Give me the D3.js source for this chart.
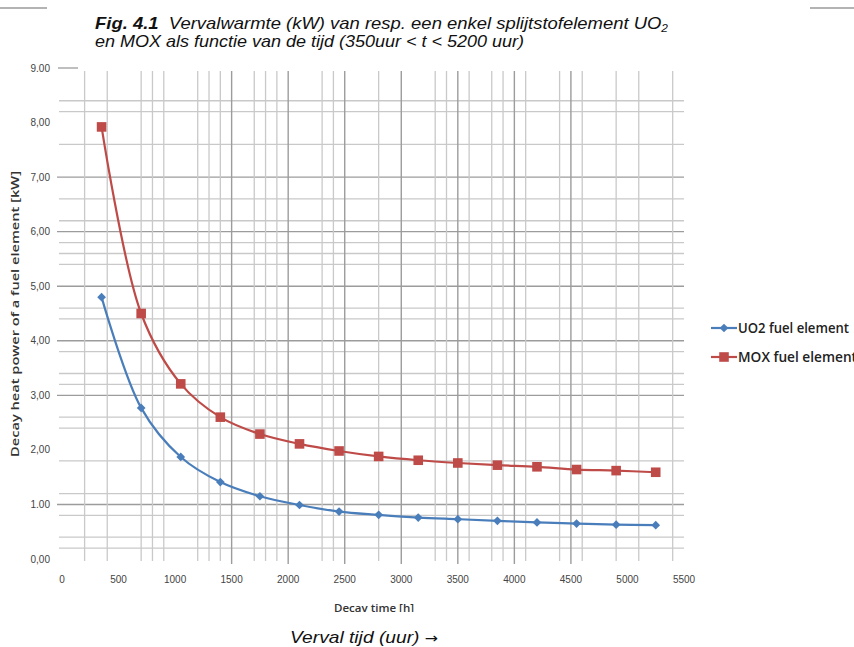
<!DOCTYPE html>
<html>
<head>
<meta charset="utf-8">
<script src="https://cdn.jsdelivr.net/npm/d3@7"></script>
<style>
  body { margin: 0; background: #fff; }
  svg { display: block; }
</style>
</head>
<body>
<svg id="chart" width="854" height="647"></svg>
<script>
// Decay time (hours) at which each fuel element was evaluated
const hours = [350, 700, 1050, 1400, 1750, 2100, 2450, 2800, 3150, 3500, 3850, 4200, 4550, 4900, 5250];
// Decay heat power [kW]
const uo2Power = [4.80, 2.77, 1.87, 1.41, 1.15, 0.99, 0.87, 0.81, 0.76, 0.73, 0.70, 0.67, 0.65, 0.63, 0.62];
const moxPower = [7.92, 4.50, 3.21, 2.60, 2.29, 2.11, 1.98, 1.88, 1.81, 1.76, 1.72, 1.69, 1.64, 1.62, 1.59];
const seriesNames = ["UO2 fuel element", "MOX fuel element"];

// Axis ticks and labels
const xTickValues = [0, 500, 1000, 1500, 2000, 2500, 3000, 3500, 4000, 4500, 5000, 5500];
const yTickValues = [0, 1, 2, 3, 4, 5, 6, 7, 8, 9];
const yTickLabels = ["0,00", "1.00", "2,00", "3,00", "4,00", "5,00", "6,00", "7,00", "8,00", "9.00"];

// Grid lines (minor = light, major = darker)
const xGridMinor = [200, 400, 700, 800, 900, 1200, 1300, 1400, 1700, 1800, 1900, 2300, 2400, 2800,
                    3300, 3400, 3600, 3800, 3900, 4100, 4400, 4600, 4900, 5100, 5400];
const xGridMajor = [1500, 2000, 2500, 3000, 3500, 4000, 4500];
const yGridMinor = [0.2, 0.4, 0.8, 1.2, 1.8, 2.4, 2.6, 3.2, 3.4, 3.8, 4.4, 4.6, 5.4, 5.6, 5.8,
                    6.2, 6.6, 7.6, 8.2, 8.4];
const yGridMajor = [1, 3, 4, 5, 6, 7];

const svg = d3.select("#chart");

const x = d3.scaleLinear().domain([0, 5500]).range([62, 684]);
const y = d3.scaleLinear().domain([0, 9]).range([559, 68]);

const blue = "#4a7ebb";
const red = "#be4b48";
const gridTop = y(9) + 3;

// Page rules at the top
svg.append("line").attr("x1", 0).attr("x2", 47).attr("y1", 8).attr("y2", 8)
  .attr("stroke", "#9a9a9a").attr("stroke-width", 1.4);
svg.append("line").attr("x1", 810).attr("x2", 854).attr("y1", 8).attr("y2", 8)
  .attr("stroke", "#9a9a9a").attr("stroke-width", 1.4);

// Caption
const captionFont = "'Liberation Sans', Arial, sans-serif";
const cap1 = svg.append("text")
  .attr("x", 95).attr("y", 29)
  .attr("font-family", captionFont).attr("font-size", 17).attr("font-style", "italic")
  .attr("fill", "#111")
  .attr("textLength", 573).attr("lengthAdjust", "spacingAndGlyphs");
cap1.append("tspan").attr("font-weight", "bold").text("Fig. 4.1");
cap1.append("tspan").text("\u00a0\u00a0Vervalwarmte (kW) van resp. een enkel splijtstofelement UO");
cap1.append("tspan").attr("font-size", 11).attr("dy", 3).text("2");
svg.append("text")
  .attr("x", 95).attr("y", 47)
  .attr("font-family", captionFont).attr("font-size", 17).attr("font-style", "italic")
  .attr("fill", "#111")
  .attr("textLength", 429).attr("lengthAdjust", "spacingAndGlyphs")
  .text("en MOX als functie van de tijd (350uur < t < 5200 uur)");

// Horizontal grid lines
const grid = svg.append("g");
grid.selectAll("line.hmin").data(yGridMinor).join("line")
  .attr("x1", x(0) - 3).attr("x2", x(5500))
  .attr("y1", d => y(d)).attr("y2", d => y(d))
  .attr("stroke", "#c9c9c9").attr("stroke-width", 1.3);
grid.selectAll("line.hmaj").data(yGridMajor).join("line")
  .attr("x1", x(0) - 5).attr("x2", x(5500))
  .attr("y1", d => y(d)).attr("y2", d => y(d))
  .attr("stroke", "#9c9c9c").attr("stroke-width", 1.4);
// Short tick at the top of the value axis
grid.append("line").attr("x1", x(0) - 4).attr("x2", x(0) + 16)
  .attr("y1", y(9)).attr("y2", y(9)).attr("stroke", "#9c9c9c").attr("stroke-width", 1.3);

// Vertical grid lines, continuing below the plot as tick marks
grid.selectAll("line.vmin").data(xGridMinor).join("line")
  .attr("x1", d => x(d)).attr("x2", d => x(d))
  .attr("y1", gridTop).attr("y2", y(0) + 2)
  .attr("stroke", "#c9c9c9").attr("stroke-width", 1.3);
grid.selectAll("line.vmaj").data(xGridMajor).join("line")
  .attr("x1", d => x(d)).attr("x2", d => x(d))
  .attr("y1", gridTop).attr("y2", y(0) + 5)
  .attr("stroke", "#9c9c9c").attr("stroke-width", 1.4);

// Axis labels
const tickFont = "'Liberation Sans', Arial, sans-serif";
svg.append("g").selectAll("text").data(yTickValues).join("text")
  .attr("x", 50).attr("y", d => y(d)).attr("dy", "0.35em")
  .attr("text-anchor", "end").attr("font-family", tickFont).attr("font-size", 10)
  .attr("fill", "#444").text((d, i) => yTickLabels[i]);
svg.append("g").selectAll("text").data(xTickValues).join("text")
  .attr("x", d => x(d)).attr("y", 579).attr("dy", "0.35em")
  .attr("text-anchor", "middle").attr("font-family", tickFont).attr("font-size", 10)
  .attr("fill", "#444").text(d => d);

// Axis titles
svg.append("text")
  .attr("transform", `translate(19, ${(171 + 457) / 2}) rotate(-90)`)
  .attr("text-anchor", "middle")
  .attr("font-family", "'Open Sans', sans-serif").attr("font-weight", 600)
  .attr("font-size", 11.5).attr("fill", "#333")
  .attr("textLength", 286).attr("lengthAdjust", "spacingAndGlyphs")
  .text("Decay heat power of a fuel element [kW]");

svg.append("clipPath").attr("id", "xtitle-clip")
  .append("rect").attr("x", 300).attr("y", 595).attr("width", 160).attr("height", 17);
svg.append("text")
  .attr("clip-path", "url(#xtitle-clip)")
  .attr("x", 374).attr("y", 612).attr("text-anchor", "middle")
  .attr("font-family", "'Open Sans', sans-serif").attr("font-weight", 600)
  .attr("font-size", 11.5).attr("fill", "#333")
  .attr("textLength", 80).attr("lengthAdjust", "spacingAndGlyphs")
  .text("Decay time [h]");

const verval = svg.append("text")
  .attr("x", 290).attr("y", 643)
  .attr("font-family", captionFont)
  .attr("font-size", 17).attr("font-style", "italic").attr("fill", "#111")
  .attr("textLength", 148).attr("lengthAdjust", "spacingAndGlyphs");
verval.append("tspan").text("Verval tijd (uur) ");
verval.append("tspan").attr("font-family", "'DejaVu Sans', sans-serif")
  .attr("font-style", "normal").attr("font-size", 14).text("\u2192");

// Series lines
const line = d3.line()
  .x((d, i) => x(hours[i]))
  .y(d => y(d))
  .curve(d3.curveCatmullRom.alpha(0.5));

const series = [
  { name: seriesNames[0], values: uo2Power, color: blue, symbol: d3.symbolSquare, size: 38, rot: 45 },
  { name: seriesNames[1], values: moxPower, color: red, symbol: d3.symbolSquare, size: 92, rot: 0 }
];

series.forEach(s => {
  svg.append("path").datum(s.values)
    .attr("d", line).attr("fill", "none")
    .attr("stroke", s.color).attr("stroke-width", 2.2);
  svg.append("g").selectAll("path").data(s.values).join("path")
    .attr("d", d3.symbol().type(s.symbol).size(s.size))
    .attr("transform", (d, i) => `translate(${x(hours[i])},${y(d)}) rotate(${s.rot})`)
    .attr("fill", s.color);
});

// Legend
const legend = svg.append("g");
series.forEach((s, i) => {
  const ly = 328 + i * 29;
  legend.append("line").attr("x1", 711).attr("x2", 737).attr("y1", ly).attr("y2", ly)
    .attr("stroke", s.color).attr("stroke-width", 2.2);
  legend.append("path")
    .attr("d", d3.symbol().type(s.symbol).size(s.size))
    .attr("transform", `translate(724,${ly}) rotate(${s.rot})`)
    .attr("fill", s.color);
  legend.append("text")
    .attr("x", 738).attr("y", ly).attr("dy", "0.36em")
    .attr("font-family", "'Open Sans', sans-serif").attr("font-weight", 600)
    .attr("font-size", 13.5).attr("fill", "#222")
    .attr("textLength", i === 0 ? 111 : 119).attr("lengthAdjust", "spacingAndGlyphs")
    .text(s.name);
});
</script>
</body>
</html>
